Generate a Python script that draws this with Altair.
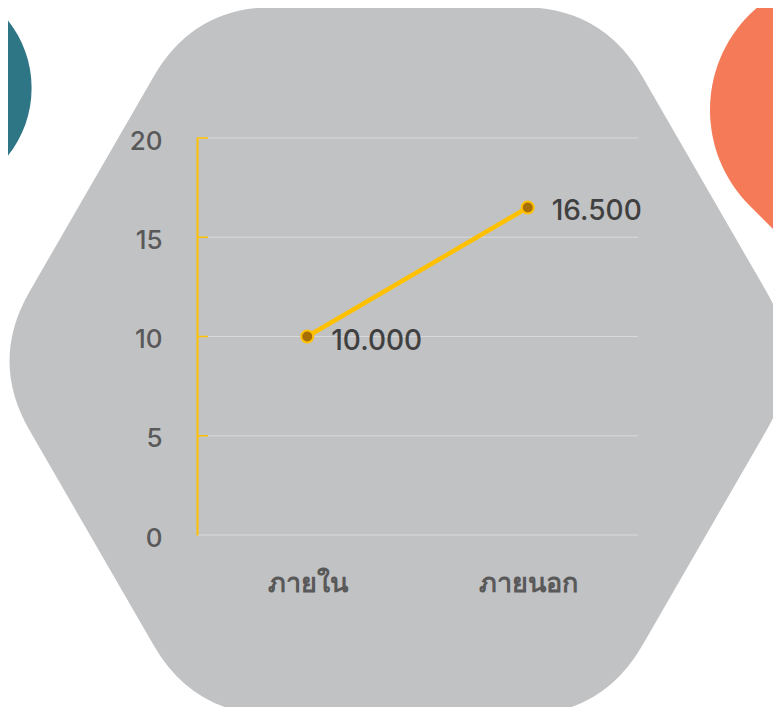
import math
import altair as alt
import pandas as pd

# ---- data ----
categories = ["ภายใน", "ภายนอก"]
values = [10.0, 16.5]
y_ticks = [0, 5, 10, 15, 20]
tick_marks = [5, 10, 15, 20]

df = pd.DataFrame({"category": categories, "value": values})
grid_df = pd.DataFrame({"v": y_ticks})
marks_df = pd.DataFrame({"v": tick_marks})
dummy = pd.DataFrame({"d": [0]})

W, H = 441, 397
YELLOW = "#FFC000"
NUM_FONT = "Inter"
THAI_FONT = "Noto Sans"


# ---- decorative background shapes (pixel paths, used with size=4 -> scale 1) ----
def rounded_polygon(verts, d):
    n = len(verts)
    parts = []
    for i in range(n):
        vx, vy = verts[i]
        px, py = verts[i - 1]
        nx, ny = verts[(i + 1) % n]
        lp = math.hypot(px - vx, py - vy)
        ln = math.hypot(nx - vx, ny - vy)
        ax, ay = vx + (px - vx) * d / lp, vy + (py - vy) * d / lp
        bx, by = vx + (nx - vx) * d / ln, vy + (ny - vy) * d / ln
        cmd = "M" if i == 0 else "L"
        parts.append(f"{cmd} {ax:.1f} {ay:.1f} Q {vx:.1f} {vy:.1f} {bx:.1f} {by:.1f} ")
    return "".join(parts) + "Z"


HEX_R = 408.5
hex_verts = [(HEX_R * math.cos(math.radians(a)), HEX_R * math.sin(math.radians(a)))
             for a in range(0, 360, 60)]
HEX_PATH = rounded_polygon(hex_verts, 80)


def circle_path(r):
    return f"M {r} 0 A {r} {r} 0 1 1 {-r} 0 A {r} {r} 0 1 1 {r} 0 Z"


TEAL_PATH = circle_path(108.6)
tr = 135.0
tq = tr / math.sqrt(2)
DROP_PATH = (f"M {-tq:.1f} {tq:.1f} A {tr} {tr} 0 1 1 {tq:.1f} {tq:.1f} "
             f"L 0 {tr * math.sqrt(2):.1f} Z")


def deco(path, color, px, py):
    return alt.Chart(dummy).mark_point(
        shape=path, size=4, filled=True, fill=color, opacity=1, strokeWidth=0
    ).encode(x=alt.value(px), y=alt.value(py))


hexagon = deco(HEX_PATH, "#C1C2C4", 201, 223)
teal = deco(TEAL_PATH, "#2E7585", -274, -50)
drop = deco(DROP_PATH, "#F47A58", 648, -28)

yscale = alt.Scale(domain=[0, 20])
yaxis = alt.Axis(title=None, values=y_ticks, grid=False, ticks=False,
                 domainColor=YELLOW, domainWidth=2, labelPadding=35,
                 labelFontSize=26, labelFontWeight=500, labelColor="#595959",
                 labelFont=NUM_FONT, labelOffset=3, zindex=1)
xaxis = alt.Axis(title=None, domain=False, ticks=False, labelAngle=0,
                 labelPadding=48, labelBaseline="middle", labelFontSize=27,
                 labelColor="#595959", labelFont=THAI_FONT, labelFontWeight="bold",
                 zindex=1)

grid = alt.Chart(grid_df).mark_rule(color="#D9D9D9", strokeWidth=1).encode(
    y=alt.Y("v:Q", scale=yscale, axis=yaxis), x=alt.value(0), x2=alt.value(W)
)
ytickmarks = alt.Chart(marks_df).mark_rule(color=YELLOW, strokeWidth=1.5).encode(
    y=alt.Y("v:Q", scale=yscale, axis=yaxis), x=alt.value(0), x2=alt.value(11)
)

xenc = alt.X("category:N", sort=categories,
             scale=alt.Scale(type="point", padding=0.5), axis=xaxis)
yenc = alt.Y("value:Q", scale=yscale, axis=yaxis)

line = alt.Chart(df).mark_line(color=YELLOW, strokeWidth=4.5).encode(x=xenc, y=yenc)
points = alt.Chart(df).mark_circle(
    color="#A66F00", stroke=YELLOW, strokeWidth=2, size=144, opacity=1
).encode(x=xenc, y=yenc)
labels = alt.Chart(df).mark_text(
    align="left", baseline="middle", dx=24, dy=5, fontSize=28, fontWeight=500,
    color="#404040", font=NUM_FONT
).encode(x=xenc, y=yenc, text=alt.Text("value:Q", format=".3f"))

chart = alt.layer(
    hexagon, teal, drop, grid, ytickmarks, line, points, labels
).properties(
    width=W, height=H, autosize="none",
    padding={"left": 189, "top": 130, "right": 135, "bottom": 172},
    background="white",
).configure_view(stroke=None)

chart.save("out.html", embed_options={"renderer": "svg", "actions": False})
